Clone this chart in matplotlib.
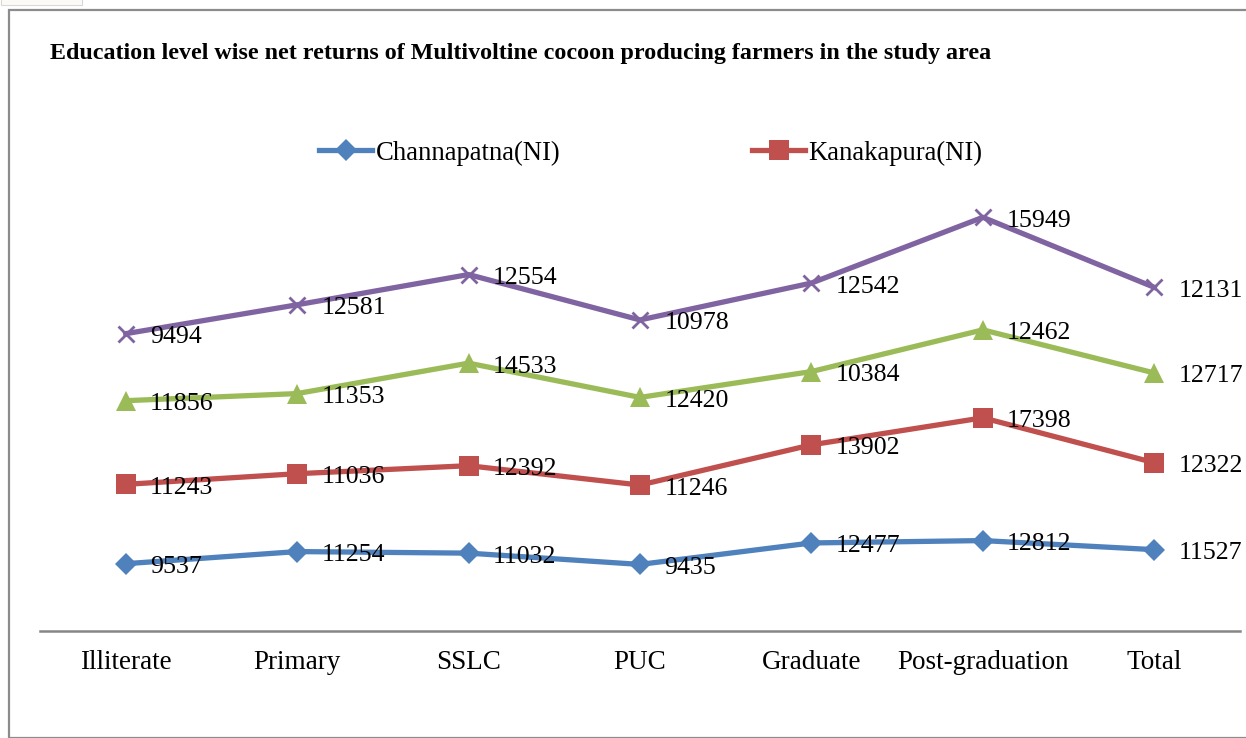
import matplotlib
matplotlib.use("Agg")
import matplotlib.pyplot as plt
from matplotlib.patches import Rectangle
import numpy as np

categories = ["Illiterate", "Primary", "SSLC", "PUC", "Graduate", "Post-graduation", "Total"]
channapatna = [9537, 11254, 11032, 9435, 12477, 12812, 11527]
kanakapura = [11243, 11036, 12392, 11246, 13902, 17398, 12322]
series3 = [11856, 11353, 14533, 12420, 10384, 12462, 12717]
series4 = [9494, 12581, 12554, 10978, 12542, 15949, 12131]
series_names = ["Channapatna(NI)", "Kanakapura(NI)", "Series3", "Series4"]
title = "Education level wise net returns of Multivoltine cocoon producing farmers in the study area"

plt.rcParams['font.family'] = ['Liberation Serif', 'DejaVu Serif']

W, H = 1246, 738
fig = plt.figure(figsize=(W/100, H/100), dpi=100)

# outer frame and small top-left box
fig.patches.append(Rectangle((9/W, 0), 1.0, 1 - 10/H, transform=fig.transFigure,
                             fill=False, edgecolor='#8c8c8c', linewidth=1.6))
fig.patches.append(Rectangle((0.5/W, 1 - 5/H), 81/W, 0.02, transform=fig.transFigure,
                             facecolor='#fbfaf7', edgecolor='#d8d8d8', linewidth=0.8))

ax_left, ax_right = 40/W, 1240/W
ax_bottom = 1 - 631/H
ax_top = 1 - 137/H
ax = fig.add_axes([ax_left, ax_bottom, ax_right - ax_left, ax_top - ax_bottom])

x = np.arange(len(categories))
data = [channapatna, kanakapura, series3, series4]
colors = ['#4F81BD', '#C0504D', '#9BBB59', '#8064A2']
markers = ['D', 's', '^', 'x']
msizes = [10.8, 14, 14.5, 12]
cum = np.zeros(len(categories))
lines = []
for vals, c, m, ms, name in zip(data, colors, markers, msizes, series_names):
    cum = cum + np.array(vals)
    ln, = ax.plot(x, cum, color=c, linewidth=3.8, marker=m, markersize=ms,
                  markeredgewidth=2 if m == 'x' else 0, markeredgecolor=c,
                  label=name, zorder=3, solid_joinstyle='round')
    lines.append(ln)
    for xi, yi, v in zip(x, cum, vals):
        ax.annotate(f"{v}", (xi, yi), xytext=(17.5, -2.5), textcoords='offset points',
                    ha='left', va='center', fontsize=18.6, color='black', zorder=4,
                    annotation_clip=False)

ax.set_xlim(-0.5, len(categories) - 0.5)
ax.set_ylim(0, 70000)
ax.set_xticks(x)
ax.set_xticklabels(categories, fontsize=19.5)
ax.tick_params(axis='x', length=0, pad=14)
ax.set_yticks([])
for s in ['top', 'right', 'left']:
    ax.spines[s].set_visible(False)
ax.spines['bottom'].set_color('#868686')
ax.spines['bottom'].set_linewidth(1.8)
ax.patch.set_alpha(0)

fig.text(50/W, 1 - 53/H, title, fontsize=17.3, fontweight='bold', ha='left', va='center')

leg = fig.legend(handles=lines[:2], loc='center left', bbox_to_anchor=(319/W, 1 - 153/H),
                 ncol=2, frameon=False, fontsize=19.2, handlelength=2.0, handletextpad=0.12,
                 columnspacing=7.2, borderpad=0, borderaxespad=0)

fig.savefig("out.png", dpi=100)
